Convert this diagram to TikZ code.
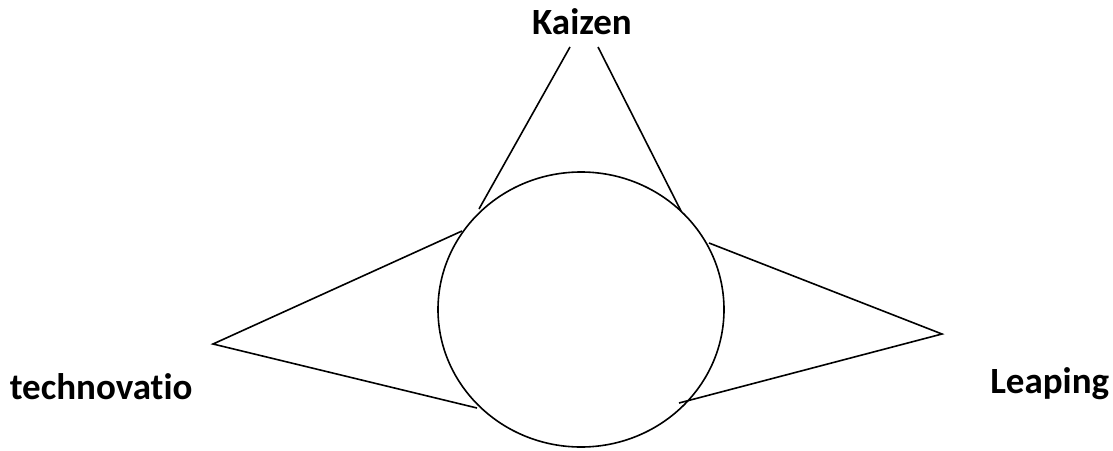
\documentclass[tikz,border=0pt]{standalone}
\usepackage{fontspec}
\setmainfont[Ligatures={NoCommon}]{Carlito}
\usetikzlibrary{positioning, shapes.geometric}

\begin{document}
\begin{tikzpicture}[x=1pt, y=-1pt, line width=1.6pt,
    lbl/.style={font=\bfseries\fontsize{37}{44}\selectfont, inner sep=0pt}]
        \useasboundingbox (0,0) rectangle (1113,450);
        \node (hub) [ellipse, draw, minimum width=286pt, minimum height=275pt, inner sep=0pt] at (581,309.5) {};
        
        \node (kaizen) [lbl] at (582,22) {Kaizen};
        \node (techno) [lbl, anchor=west] at (9,387) {technovatio};
        \node (leap) [lbl, anchor=east] at (1110,384) {Leaping};
        
        \coordinate (ktl) at (570,47);
        \coordinate (ktr) at (598,47);
        \coordinate (kbl) at (479,209);
        \coordinate (kbr) at (681,211);
        \coordinate (tip) at (213,344);
        \coordinate (tu) at (462,231);
        \coordinate (td) at (477,408);
        \coordinate (lip) at (942,334);
        \coordinate (lu) at (709,243);
        \coordinate (ld) at (679,403);
        
        \draw (ktl) -- (kbl);
        \draw (ktr) -- (kbr);
        \draw (tu) -- (tip) -- (td);
        \draw (lu) -- (lip) -- (ld);
    \end{tikzpicture}
\end{document}
